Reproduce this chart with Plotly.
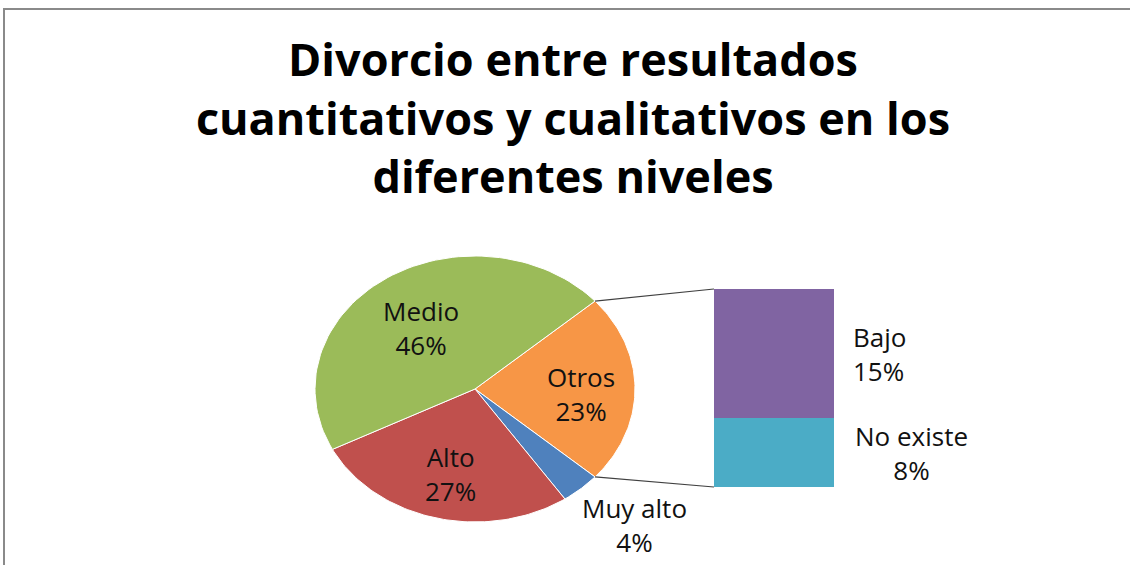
import numpy as np
import plotly.graph_objects as go

# ---------------- data ----------------
main_labels = ["Otros", "Muy alto", "Alto", "Medio"]
main_values = [23, 4, 27, 46]
sub_labels = ["No existe", "Bajo"]
sub_values = [8, 15]

main_colors = {"Otros": "#F79646", "Muy alto": "#4F81BD", "Alto": "#C0504D", "Medio": "#9BBB59"}
sub_colors = {"No existe": "#4BACC6", "Bajo": "#8064A2"}

title_lines = ["Divorcio entre resultados", "cuantitativos y cualitativos en los", "diferentes niveles"]

# ---------------- layout constants ----------------
W, H = 1130, 565
CX, CY, RX, RY = 475, 389, 160, 133   # pie ellipse (pixels)
PAD = 1.04
BX0, BX1, BY0, BY1 = 714, 834, 289, 487  # bar box (pixels)
FONT = "Open Sans"
LABEL_SIZE = 26
LABEL_DY = -5 / H   # nudge labels down slightly (paper units, negative = lower)

total = sum(main_values)
sub_total = sum(sub_values)

pie_xd = [(CX - RX * PAD) / W, (CX + RX * PAD) / W]
pie_yd = [1 - (CY + RY * PAD) / H, 1 - (CY - RY * PAD) / H]
bar_xd = [BX0 / W, BX1 / W]
bar_yd = [1 - BY1 / H, 1 - BY0 / H]


def pie_to_paper(nx, ny):
    px = pie_xd[0] + (nx + PAD) / (2 * PAD) * (pie_xd[1] - pie_xd[0])
    py = pie_yd[0] + (ny + PAD) / (2 * PAD) * (pie_yd[1] - pie_yd[0])
    return px, py


def bar_to_paper(bx, by):
    px = bar_xd[0] + (bx + 0.5) * (bar_xd[1] - bar_xd[0])
    py = bar_yd[0] + by / sub_total * (bar_yd[1] - bar_yd[0])
    return px, py


fig = go.Figure()

# ---------------- pie (drawn on its own axes, elliptical) ----------------
start = 360.0 * main_values[0] / total / 2.0
a0 = start
mid_angles = {}
for lab, val in zip(main_labels, main_values):
    sweep = 360.0 * val / total
    a1 = a0 - sweep
    th = np.radians(np.linspace(a0, a1, 80))
    xs = np.concatenate([[0], np.cos(th), [0]])
    ys = np.concatenate([[0], np.sin(th), [0]])
    fig.add_trace(go.Scatter(x=xs, y=ys, mode="lines", fill="toself",
                             fillcolor=main_colors[lab],
                             line=dict(color="white", width=1),
                             hoverinfo="text", text=f"{lab}: {val}%",
                             showlegend=False, xaxis="x", yaxis="y"))
    mid_angles[lab] = (a0 + a1) / 2.0
    a0 = a1

# (radius, xanchor, yanchor) for each label
label_pos = {"Otros": (0.66, "center", "middle"), "Muy alto": (0.99, "left", "top"),
             "Alto": (0.62, "center", "middle"), "Medio": (0.6, "center", "middle")}
for lab, val in zip(main_labels, main_values):
    m = np.radians(mid_angles[lab])
    r, xa, ya = label_pos[lab]
    px, py = pie_to_paper(r * np.cos(m), r * np.sin(m))
    fig.add_annotation(x=px, y=py + (LABEL_DY if ya == "middle" else 0), xref="paper", yref="paper",
                       text=f"{lab}<br>{val / total:.0%}", showarrow=False,
                       font=dict(family=FONT, size=LABEL_SIZE, color="#111111"),
                       align="center", xanchor=xa, yanchor=ya)

# ---------------- bar of the "Otros" split ----------------
for lab, val in zip(sub_labels, sub_values):
    fig.add_trace(go.Bar(x=[0], y=[val], width=1, marker=dict(color=sub_colors[lab], line=dict(width=0)),
                         name=lab, showlegend=False, xaxis="x2", yaxis="y2",
                         hovertemplate=f"{lab}: {val}%<extra></extra>"))

base = 0
sub_label_pos = {"No existe": (1.15, "center"), "Bajo": (0.64, "left")}
for lab, val in zip(sub_labels, sub_values):
    bx, anchor = sub_label_pos[lab]
    px, py = bar_to_paper(bx, base + val / 2.0)
    fig.add_annotation(x=px, y=py, xref="paper", yref="paper",
                       text=f"{lab}<br>{val / total:.0%}", showarrow=False,
                       font=dict(family=FONT, size=LABEL_SIZE, color="#111111"),
                       align=anchor, xanchor=anchor, yanchor="middle")
    base += val

# ---------------- connectors ----------------
for ang, by in [(start, sub_total), (-start, 0)]:
    a = np.radians(ang)
    px, py = pie_to_paper(np.cos(a), np.sin(a))
    qx, qy = bar_to_paper(-0.5, by)
    fig.add_shape(type="line", xref="paper", yref="paper", x0=px, y0=py, x1=qx, y1=qy,
                  line=dict(color="#404040", width=1.2))

# frame
fig.add_shape(type="rect", xref="paper", yref="paper", x0=4 / W, y0=-0.05, x1=1.05, y1=1 - 9 / H,
              line=dict(color="#8a8a8a", width=2), fillcolor="rgba(0,0,0,0)", layer="below")

fig.update_layout(
    width=W, height=H,
    margin=dict(l=0, r=0, t=0, b=0),
    paper_bgcolor="white", plot_bgcolor="rgba(0,0,0,0)",
    barmode="stack", bargap=0,
    title=dict(text="<b>" + "<br>".join(title_lines) + "</b>",
               x=573 / W, xanchor="center", y=1 - 76 / H, yanchor="middle",
               font=dict(family=FONT, size=45, color="#000000")),
    xaxis=dict(domain=pie_xd, range=[-PAD, PAD], visible=False, fixedrange=True),
    yaxis=dict(domain=pie_yd, range=[-PAD, PAD], visible=False, fixedrange=True),
    xaxis2=dict(domain=bar_xd, range=[-0.5, 0.5], visible=False, anchor="y2", fixedrange=True),
    yaxis2=dict(domain=bar_yd, range=[0, sub_total], visible=False, anchor="x2", fixedrange=True),
    showlegend=False,
)

fig.write_html("out.html", config={"displayModeBar": False},
               post_script="document.body.style.margin='0';")
